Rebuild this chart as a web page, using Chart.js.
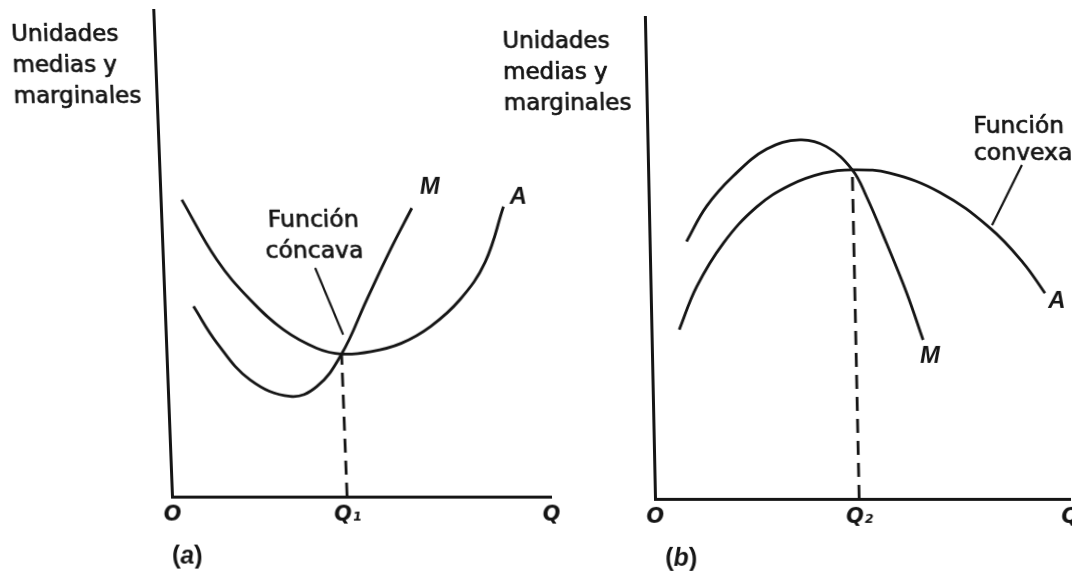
<!DOCTYPE html>
<html lang="es">
<head>
<meta charset="utf-8">
<title>Función cóncava y función convexa</title>
<script src="https://cdn.jsdelivr.net/npm/chart.js"></script>
<style>
  html, body { margin: 0; padding: 0; background: #fff; }
  body { width: 1072px; height: 574px; overflow: hidden; position: relative; }
  canvas { position: absolute; top: 0; }
  /* the scanned figure leans a little, the bottoms of the axes stay put */
  #panel-a { left: 0; transform: skewX(2.2deg); transform-origin: 0 497px; }
  #panel-b { left: 480px; transform: skewX(1.2deg); transform-origin: 0 499px; }
</style>
</head>
<body>
<canvas id="panel-a" width="570" height="574"></canvas>
<canvas id="panel-b" width="620" height="574"></canvas>
<script>
const yTitle = ['Unidades', 'medias y', 'marginales'];

// panel (a): función cóncava
const qTicksA = [0, 4.62, 10];
const qLabelsA = ['O', 'Q₁', 'Q'];
const averageA_q = [0.56, 1.42, 2.26, 3.11, 3.97, 4.62, 5.40, 6.20, 7.00, 7.80, 8.50, 9.04];
const averageA_u = [6.10, 4.87, 4.05, 3.43, 3.05, 2.93, 2.98, 3.15, 3.50, 4.05, 4.82, 5.96];
const marginalA_q = [0.76, 1.34, 2.18, 3.22, 3.93, 4.62, 5.34, 6.01, 6.62];
const marginalA_u = [3.91, 3.16, 2.40, 2.06, 2.26, 2.93, 4.05, 5.07, 5.93];
const pointerA_q = [4.01, 4.68];
const pointerA_u = [4.70, 3.33];

// panel (b): función convexa
const qTicksB = [0, 4.92, 10];
const qLabelsB = ['O', 'Q₂', 'Q'];
const averageB_q = [0.67, 1.11, 1.77, 2.60, 3.41, 4.22, 4.92, 5.82, 7.02, 8.21, 8.99, 9.50];
const averageB_u = [3.51, 4.40, 5.30, 6.06, 6.51, 6.76, 6.83, 6.76, 6.36, 5.62, 4.90, 4.27];
const marginalB_q = [0.89, 1.39, 2.05, 2.87, 3.67, 4.31, 4.92, 5.25, 5.71, 6.17, 6.54];
const marginalB_u = [5.34, 6.07, 6.70, 7.26, 7.45, 7.31, 6.83, 6.27, 5.30, 4.27, 3.30];
const pointerB_q = [9.01, 8.26];
const pointerB_u = [6.93, 5.68];

const INK = '#151515';
const SANS = '"DejaVu Sans", sans-serif';
const LETTER = '"Liberation Sans", Arial, sans-serif';

function pts(xs, ys) {
  return xs.map((x, i) => ({ x: x, y: ys[i] }));
}

function curve(data) {
  return { data: data, borderColor: INK, borderWidth: 2.8, pointRadius: 0, showLine: true,
           tension: 0.4, fill: false };
}

function straight(data, dash) {
  return { data: data, borderColor: INK, borderWidth: dash ? 2.8 : 2.2, pointRadius: 0, showLine: true,
           tension: 0, borderDash: dash || [], fill: false };
}

// the scan's lettering is a medium weight: regular glyphs with a thin outline
function heavyText(ctx, text, x, y) {
  ctx.fillText(text, x, y);
  ctx.strokeText(text, x, y);
}

// text drawn on top: axis title, curve names, notes, panel tag
function makeNotes(notes) {
  return {
    id: 'notes',
    afterDraw(chart) {
      const ctx = chart.ctx, area = chart.chartArea;
      const x = chart.scales.x, y = chart.scales.y;
      ctx.save();
      ctx.fillStyle = INK;
      ctx.strokeStyle = INK;
      ctx.lineWidth = 0.7;
      ctx.lineJoin = 'round';
      ctx.font = '23px ' + SANS;
      ctx.textAlign = 'left';
      ctx.textBaseline = 'alphabetic';
      yTitle.forEach((line, i) => heavyText(ctx, line, area.left - 143, area.top + 31 + i * 31));

      notes.labels.forEach(l => {
        ctx.font = l.font;
        ctx.textAlign = l.align || 'center';
        ctx.textBaseline = l.baseline || 'middle';
        if (l.medium) heavyText(ctx, l.text, x.getPixelForValue(l.q), y.getPixelForValue(l.u));
        else ctx.fillText(l.text, x.getPixelForValue(l.q), y.getPixelForValue(l.u));
      });

      // "(a)" / "(b)" with the letter in italics
      const parts = [['(', 'bold 25px ' + LETTER], [notes.tag, 'italic bold 25px ' + LETTER], [')', 'bold 25px ' + LETTER]];
      let w = 0;
      parts.forEach(p => { ctx.font = p[1]; w += ctx.measureText(p[0]).width; });
      let px = area.left + notes.tagDx - w / 2;
      ctx.textAlign = 'left';
      ctx.textBaseline = 'alphabetic';
      parts.forEach(p => { ctx.font = p[1]; ctx.fillText(p[0], px, area.bottom + 67); px += ctx.measureText(p[0]).width; });
      ctx.restore();
    }
  };
}

function makePanel(canvasId, qTicks, qLabels, datasets, notes, pad) {
  const axisBorder = { display: true, width: 3, color: INK };
  return new Chart(document.getElementById(canvasId), {
    type: 'scatter',
    data: { datasets: datasets },
    options: {
      responsive: false,
      animation: false,
      events: [],
      layout: { padding: pad },
      plugins: { legend: { display: false }, tooltip: { enabled: false } },
      scales: {
        x: {
          type: 'linear', min: 0, max: 10,
          grid: { display: false, drawTicks: false },
          border: axisBorder,
          afterBuildTicks: s => { s.ticks = qTicks.map(v => ({ value: v })); },
          ticks: {
            autoSkip: false, maxRotation: 0, padding: 6, color: INK,
            font: { family: SANS, size: 21, style: 'italic', weight: 'bold' },
            callback: (v, i) => qLabels[i]
          }
        },
        y: {
          type: 'linear', min: 0, max: 10,
          grid: { display: false, drawTicks: false },
          border: axisBorder,
          ticks: { display: false }
        }
      }
    },
    plugins: [makeNotes(notes)]
  });
}

// nudge the layout padding until the plot area sits where the axes are in the figure
function fitArea(chart, want) {
  for (let k = 0; k < 3; k++) {
    const a = chart.chartArea, p = chart.options.layout.padding;
    p.left += want.left - a.left;
    p.top += want.top - a.top;
    p.right += a.right - want.right;
    p.bottom += a.bottom - want.bottom;
    chart.update('none');
  }
}

const markFont = 'italic bold 24px ' + LETTER;
const noteFont = '23.5px ' + SANS;

const chartA = makePanel('panel-a', qTicksA, qLabelsA, [
  curve(pts(averageA_q, averageA_u)),
  curve(pts(marginalA_q, marginalA_u)),
  straight(pts([qTicksA[1], qTicksA[1]], [0, averageA_u[5]]), [14, 8]),
  straight(pts(pointerA_q, pointerA_u))
], {
  tag: 'a', tagDx: 13,
  labels: [
    { text: 'M', q: 7.12, u: 6.35, font: markFont },
    { text: 'A', q: 9.44, u: 6.16, font: markFont },
    { text: 'Función', q: 4.01, u: 5.54, font: noteFont, baseline: 'alphabetic', medium: true },
    { text: 'cóncava', q: 4.01, u: 4.91, font: noteFont, baseline: 'alphabetic', medium: true }
  ]
}, { left: 172, top: 10, right: 19, bottom: 45 });

const chartB = makePanel('panel-b', qTicksB, qLabelsB, [
  curve(pts(averageB_q, averageB_u)),
  curve(pts(marginalB_q, marginalB_u)),
  straight(pts([qTicksB[1], qTicksB[1]], [0, averageB_u[6]]), [14, 8]),
  straight(pts(pointerB_q, pointerB_u))
], {
  tag: 'b', tagDx: 25,
  labels: [
    { text: 'M', q: 6.70, u: 2.95, font: markFont },
    { text: 'A', q: 9.78, u: 4.09, font: markFont },
    { text: 'Función', q: 7.86, u: 7.59, font: noteFont, align: 'left', baseline: 'alphabetic', medium: true },
    { text: 'convexa', q: 7.86, u: 7.03, font: noteFont, align: 'left', baseline: 'alphabetic', medium: true }
  ]
}, { left: 175, top: 17, right: 30, bottom: 43 });

fitArea(chartA, { left: 172, top: 10, right: 551, bottom: 497 });
fitArea(chartB, { left: 175, top: 17, right: 590, bottom: 499 });
</script>
</body>
</html>
